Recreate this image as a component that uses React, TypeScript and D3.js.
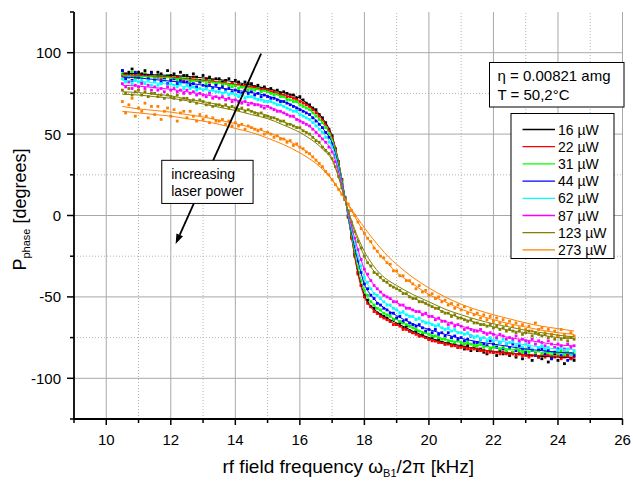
import React from "react";
import * as d3 from "d3";

const width = 633;
const height = 481;
const margin = { top: 12, right: 10.5, bottom: 62, left: 74 };
const font = "'Liberation Sans', Arial, Helvetica, sans-serif";

// laser powers and colours, one per series
const powers = ["16 µW", "22 µW", "31 µW", "44 µW", "62 µW", "87 µW", "123 µW", "273 µW"];
const colors = ["#000000", "#ff0000", "#00ff00", "#0000ff", "#00ffff", "#ff00ff", "#808000", "#ff8000"];

// measured points: sampled every 0.1 kHz from 10.5 kHz
const dotStart = 10.5;
const dotStep = 0.1;

const dots16 = [
  89, 86, 88, 90, 85, 88, 87, 89, 86, 88,
  85, 88, 87, 84, 89, 86, 87, 85, 88, 86,
  86, 84, 87, 85, 83, 86, 84, 85, 83, 84,
  84, 82, 83, 84, 81, 83, 82, 80, 82, 81,
  81, 79, 80, 78, 79, 77, 78, 76, 77, 75,
  76, 75, 74, 74, 72, 73, 71, 69, 68, 66,
  65, 62, 60, 57, 53, 49, 41, 33, 22, 11,
  -1, -13, -24, -35, -43, -49, -52, -56, -57, -60,
  -61, -62, -63, -65, -64, -67, -66, -69, -68, -71,
  -72, -71, -74, -73, -75, -76, -75, -77, -76, -78,
  -79, -78, -80, -79, -81, -80, -82, -80, -83, -81,
  -83, -82, -84, -85, -82, -84, -86, -83, -85, -84,
  -86, -84, -87, -85, -88, -85, -86, -89, -85, -87,
  -88, -86, -90, -87, -85, -89, -87, -91, -86, -88,
  -89,
];
const dots22 = [
  86, 87, 85, 86, 87, 85, 86, 87, 85, 86,
  85, 86, 84, 85, 86, 85, 84, 85, 84, 83,
  84, 83, 85, 83, 82, 83, 84, 82, 83, 81,
  82, 81, 82, 80, 81, 80, 81, 79, 80, 79,
  79, 79, 78, 77, 78, 77, 76, 76, 75, 74,
  74, 73, 73, 72, 71, 70, 69, 68, 67, 65,
  63, 61, 59, 56, 52, 48, 41, 33, 22, 11,
  -1, -14, -25, -36, -43, -50, -54, -56, -59, -60,
  -62, -63, -64, -65, -67, -67, -68, -70, -70, -71,
  -72, -73, -74, -74, -75, -76, -77, -77, -78, -78,
  -79, -79, -80, -80, -81, -81, -81, -82, -82, -82,
  -82, -83, -83, -84, -84, -84, -84, -85, -84, -85,
  -85, -85, -86, -85, -86, -86, -87, -86, -85, -87,
  -86, -87, -86, -88, -87, -86, -88, -87, -86, -88,
  -87,
];
const dots31 = [
  87, 85, 86, 88, 84, 86, 85, 87, 84, 86,
  84, 86, 85, 83, 86, 84, 85, 83, 85, 84,
  84, 82, 83, 84, 82, 83, 81, 83, 82, 81,
  82, 80, 81, 80, 79, 80, 78, 79, 79, 77,
  78, 77, 78, 76, 77, 76, 75, 74, 75, 73,
  73, 71, 71, 70, 70, 68, 67, 66, 65, 63,
  61, 59, 57, 54, 50, 47, 40, 32, 21, 11,
  0, -12, -22, -32, -40, -46, -49, -53, -55, -57,
  -58, -60, -61, -62, -64, -63, -65, -66, -67, -68,
  -69, -70, -71, -72, -72, -73, -74, -74, -75, -76,
  -76, -77, -77, -78, -77, -78, -79, -78, -79, -80,
  -80, -79, -81, -80, -82, -81, -80, -82, -81, -83,
  -82, -84, -82, -83, -84, -82, -84, -83, -85, -83,
  -85, -83, -84, -86, -84, -85, -83, -86, -84, -85,
  -85,
];
const dots44 = [
  89, 84, 86, 83, 88, 85, 82, 86, 84, 87,
  83, 85, 82, 84, 81, 83, 84, 81, 83, 82,
  82, 80, 81, 79, 82, 80, 79, 80, 78, 80,
  78, 79, 77, 78, 76, 77, 76, 75, 77, 75,
  76, 74, 75, 73, 74, 73, 72, 72, 71, 70,
  70, 69, 68, 67, 66, 65, 64, 63, 62, 60,
  58, 56, 54, 51, 48, 44, 37, 30, 20, 10,
  0, -10, -19, -28, -35, -42, -45, -49, -51, -54,
  -55, -57, -58, -60, -60, -63, -62, -65, -64, -66,
  -67, -68, -67, -69, -71, -70, -72, -70, -73, -72,
  -74, -72, -75, -74, -76, -75, -77, -76, -74, -78,
  -78, -76, -79, -80, -77, -79, -81, -78, -82, -79,
  -81, -79, -83, -80, -82, -84, -81, -83, -86, -82,
  -82, -85, -83, -88, -84, -82, -86, -84, -89, -85,
  -86,
];
const dots62 = [
  84, 82, 85, 81, 83, 82, 84, 81, 83, 80,
  82, 80, 81, 83, 79, 81, 80, 79, 81, 78,
  80, 78, 79, 77, 78, 77, 78, 76, 77, 76,
  76, 75, 76, 74, 75, 74, 73, 74, 72, 73,
  73, 72, 71, 71, 70, 70, 70, 69, 68, 68,
  67, 66, 65, 64, 64, 62, 61, 60, 59, 57,
  55, 53, 51, 48, 45, 42, 36, 29, 20, 10,
  1, -8, -17, -25, -31, -38, -41, -45, -48, -49,
  -51, -53, -55, -55, -57, -58, -60, -59, -61, -62,
  -62, -64, -63, -65, -66, -66, -67, -68, -67, -69,
  -70, -69, -71, -70, -72, -72, -73, -72, -74, -75,
  -74, -76, -75, -77, -75, -77, -76, -78, -76, -79,
  -78, -77, -80, -78, -81, -79, -80, -82, -79, -81,
  -80, -82, -81, -84, -81, -83, -81, -84, -82, -85,
  -83,
];
const dots87 = [
  81, 79, 82, 78, 80, 79, 81, 78, 80, 77,
  79, 77, 78, 76, 79, 77, 78, 76, 77, 75,
  77, 75, 76, 74, 75, 74, 73, 75, 72, 73,
  72, 73, 71, 72, 70, 71, 70, 69, 70, 68,
  69, 68, 68, 67, 66, 67, 66, 65, 64, 64,
  63, 62, 61, 61, 59, 58, 57, 56, 55, 53,
  51, 49, 47, 45, 42, 39, 33, 27, 19, 10,
  2, -6, -14, -21, -27, -33, -36, -40, -43, -45,
  -47, -49, -50, -51, -53, -53, -55, -55, -57, -57,
  -58, -59, -59, -61, -60, -62, -62, -64, -63, -65,
  -65, -67, -66, -68, -67, -68, -70, -69, -70, -71,
  -71, -70, -72, -73, -72, -73, -75, -73, -74, -76,
  -75, -76, -74, -77, -76, -77, -78, -76, -79, -77,
  -78, -80, -77, -79, -81, -79, -80, -82, -79, -81,
  -80,
];
const dots123 = [
  77, 75, 78, 74, 76, 77, 74, 76, 73, 75,
  75, 73, 74, 72, 74, 73, 72, 74, 71, 72,
  72, 70, 71, 69, 71, 70, 68, 69, 67, 68,
  68, 67, 68, 66, 67, 66, 65, 66, 64, 65,
  64, 63, 62, 63, 61, 61, 60, 60, 59, 58,
  58, 56, 56, 55, 54, 54, 52, 51, 50, 48,
  46, 45, 42, 40, 38, 35, 30, 24, 17, 10,
  3, -4, -10, -16, -20, -25, -29, -31, -35, -36,
  -38, -40, -41, -43, -44, -45, -46, -48, -48, -50,
  -51, -51, -53, -53, -54, -55, -56, -57, -57, -59,
  -60, -60, -62, -61, -63, -63, -64, -65, -64, -66,
  -66, -67, -67, -68, -67, -69, -68, -70, -69, -71,
  -70, -71, -72, -71, -73, -72, -71, -74, -72, -73,
  -74, -73, -75, -74, -76, -74, -76, -75, -77, -75,
  -76,
];
const dots273 = [
  70, 63, 68, 72, 61, 66, 64, 69, 60, 67,
  62, 67, 59, 64, 66, 61, 65, 58, 63, 64,
  60, 64, 61, 58, 62, 59, 61, 57, 60, 58,
  58, 59, 56, 58, 55, 57, 55, 56, 53, 55,
  54, 53, 52, 53, 50, 51, 50, 48, 49, 47,
  47, 45, 46, 43, 44, 42, 41, 39, 38, 36,
  34, 32, 30, 27, 25, 22, 19, 16, 13, 10,
  7, 3, 0, -4, -8, -11, -14, -16, -20, -22,
  -25, -26, -29, -30, -34, -34, -37, -37, -40, -40,
  -42, -45, -43, -47, -46, -49, -48, -51, -50, -53,
  -52, -55, -54, -57, -55, -58, -56, -60, -58, -61,
  -60, -63, -61, -64, -62, -65, -63, -66, -64, -67,
  -65, -68, -66, -69, -67, -70, -68, -71, -66, -70,
  -69, -72, -70, -73, -71, -74, -70, -73, -75, -72,
  -74,
];

// fitted curves
const fitX = [
  10.5, 11, 11.5, 12, 12.5, 13, 13.5, 14, 14.5, 15,
  15.5, 16, 16.25, 16.5, 16.75, 17, 17.2, 17.4, 17.6, 17.8,
  18, 18.25, 18.5, 18.75, 19, 19.5, 20, 20.5, 21, 21.5,
  22, 22.5, 23, 23.5, 24, 24.5,
];
const fit16 = [87.5, 87, 86.5, 86, 85.5, 84.5, 83.5, 82, 80, 78, 75.5, 72, 68.5, 64.5, 58.5, 49, 33, 11, -13, -35, -49, -56.5, -60.5, -63.5, -66, -71, -75, -78, -80, -82, -83.5, -84.5, -85.5, -86.5, -87, -87.5];
const fit22 = [86.5, 86, 85.5, 85, 84, 83, 82, 80.5, 79, 77, 74, 70.5, 67.5, 63.5, 57.5, 48.5, 33, 11, -13.5, -36, -50, -57.5, -61.5, -64.5, -67, -72, -76, -78.5, -80.5, -82, -83.5, -84.5, -85.5, -86, -86.5, -87];
const fit31 = [86, 85.5, 85, 84.5, 83.5, 82.5, 81.5, 80, 78, 76, 72.5, 68.5, 65.5, 61.5, 55.5, 47, 32, 11, -12, -32, -46, -54, -58.5, -61.5, -64, -69, -73, -76, -78, -79.5, -81, -82, -83, -84, -84.5, -85];
const fit44 = [85, 84.5, 83.5, 82.5, 81.5, 80, 78.5, 77, 75.5, 73.5, 70, 65.5, 62.5, 58.5, 52.5, 44.5, 30, 10.5, -10, -28, -42, -50, -55, -58.5, -61.5, -66.5, -70, -73, -75.5, -77.5, -79, -80.5, -82, -83, -84, -84.5];
const fit62 = [83, 82.5, 81.5, 80.5, 79, 77.5, 76, 74.5, 72.5, 70.5, 67, 62.5, 59.5, 55.5, 50, 42.5, 29, 10, -8.5, -25, -38, -46.5, -51.5, -55, -58, -62.5, -66, -69.5, -72, -74.5, -76.5, -78, -79.5, -81, -82, -82.5];
const fit87 = [80, 79.5, 78.5, 77.5, 76, 74.5, 72.5, 71, 69, 67, 63, 58.5, 55.5, 51.5, 46, 39.5, 27, 10, -6.5, -21, -33, -41.5, -47, -50.5, -53.5, -58, -61.5, -65, -68, -70.5, -73, -75, -76.5, -78, -79.5, -80];
const fit123 = [76, 75.5, 74.5, 73.5, 71.5, 70, 68, 66, 64, 61.5, 57.5, 53.5, 50.5, 46.5, 41.5, 35, 24, 9.5, -4, -15.5, -25, -33, -38.5, -42, -45, -50.5, -55, -59.5, -63, -66, -68.5, -70.5, -72, -73.5, -75, -75.5];
const fit273 = [67, 65.5, 64.5, 63.5, 62, 60.5, 58.5, 56.5, 54, 51, 47, 42, 38.5, 34, 28.5, 22, 16, 10, 3, -4, -11, -18, -24.5, -30, -35, -42, -48.5, -53, -57.5, -61, -64, -66.5, -68.5, -70.5, -72, -73];
// second fit drawn for the two highest powers
const fit123b = [74.5, 74, 73, 72, 70.5, 68.5, 66.5, 64.5, 62, 59.5, 55.5, 51, 48, 44.5, 40, 34, 23.5, 9.5, -3, -13.5, -22, -30, -36, -40, -43, -48.5, -53, -57.5, -61, -64, -66.5, -68.5, -70.5, -72, -73.5, -74.5];
const fit273b = [64, 63, 62, 61, 59.5, 58, 56, 53.5, 51, 47.5, 43.5, 38.5, 35.5, 32, 27.5, 22, 16.5, 10, 4, -2, -7.5, -14, -20, -25.5, -30, -38, -44.5, -50, -54.5, -58, -61, -63.5, -66, -68, -69.5, -71];

const allDots = [dots16, dots22, dots31, dots44, dots62, dots87, dots123, dots273];
const allFits = [fit16, fit22, fit31, fit44, fit62, fit87, fit123, fit273];
const extraFits = [
  { values: fit123b, color: colors[6] },
  { values: fit273b, color: colors[7] },
];

// axis ticks
const xMajor = [10, 12, 14, 16, 18, 20, 22, 24, 26];
const xMinor = [9, 11, 13, 15, 17, 19, 21, 23, 25];
const yMajor = [-100, -50, 0, 50, 100];
const yMinor = [-125, -75, -25, 25, 75, 125];

// annotation arrow and its label box, in data units
const arrowFrom = { f: 14.8, p: 99.5 };
const arrowTo = { f: 12.15, p: -17.5 };
const noteBox = { f0: 11.72, f1: 14.55, p0: 33.9, p1: 7.4 };

export default function App() {
  const x = d3
    .scaleLinear()
    .domain([9, 26])
    .range([margin.left, width - margin.right]);
  const y = d3
    .scaleLinear()
    .domain([-125, 125])
    .range([height - margin.bottom, margin.top]);

  const fitLine = d3
    .line<number>()
    .x((_, i) => x(fitX[i]))
    .y(d => y(d))
    .curve(d3.curveMonotoneX);

  const x0 = margin.left;
  const x1 = width - margin.right;
  const y0 = height - margin.bottom;
  const y1 = margin.top;

  // arrow head
  const ax0 = x(arrowFrom.f), ay0 = y(arrowFrom.p);
  const ax1 = x(arrowTo.f), ay1 = y(arrowTo.p);
  const ang = Math.atan2(ay1 - ay0, ax1 - ax0);
  const headLen = 10, headW = 3.6;
  const bx = ax1 - headLen * Math.cos(ang), by = ay1 - headLen * Math.sin(ang);
  const head = [
    [ax1, ay1],
    [bx + headW * Math.sin(ang), by - headW * Math.cos(ang)],
    [bx - headW * Math.sin(ang), by + headW * Math.cos(ang)],
  ];

  const infoX = 489.5, infoY = 62.5;
  const legX = 511, legY = 113.5, legRow = 17.2;

  return (
    <svg
      width={width}
      height={height}
      style={{ position: "absolute", left: 0, top: 0, background: "#fff" }}
      fontFamily={font}
    >
      <rect width={width} height={height} fill="#fff" />

      {/* grid */}
      {xMajor.map(v => (
        <line key={"gx" + v} x1={x(v)} x2={x(v)} y1={y0} y2={y1} stroke="#a8a8a8" strokeWidth={1} />
      ))}
      {xMinor.slice(1).map(v => (
        <line key={"gxm" + v} x1={x(v)} x2={x(v)} y1={y0} y2={y1} stroke="#b4b4b4" strokeWidth={1} strokeDasharray="1,2" />
      ))}
      {yMajor.map(v => (
        <line key={"gy" + v} x1={x0} x2={x1} y1={y(v)} y2={y(v)} stroke="#a8a8a8" strokeWidth={1} />
      ))}
      {yMinor.slice(1, -1).map(v => (
        <line key={"gym" + v} x1={x0} x2={x1} y1={y(v)} y2={y(v)} stroke="#b4b4b4" strokeWidth={1} strokeDasharray="1,2" />
      ))}

      {/* measured points */}
      {allDots.map((vals, s) => (
        <g key={"d" + s} fill={colors[s]}>
          {vals.map((v, i) => (
            <rect
              key={i}
              x={x(dotStart + i * dotStep) - 1.4}
              y={y(v) - 1.4}
              width={2.8}
              height={2.8}
            />
          ))}
        </g>
      ))}

      {/* fits */}
      {allFits.map((vals, s) => (
        <path key={"f" + s} d={fitLine(vals) || ""} fill="none" stroke={colors[s]} strokeWidth={1} />
      ))}
      {extraFits.map((f, s) => (
        <path key={"fe" + s} d={fitLine(f.values) || ""} fill="none" stroke={f.color} strokeWidth={1} />
      ))}

      {/* axes */}
      <line x1={x0} x2={x0} y1={y1} y2={y0 + 1} stroke="#000" strokeWidth={1.8} />
      <line x1={x0 - 1} x2={x1} y1={y0} y2={y0} stroke="#000" strokeWidth={1.8} />
      {xMajor.map(v => (
        <g key={"tx" + v}>
          <line x1={x(v)} x2={x(v)} y1={y0} y2={y0 + 6} stroke="#000" strokeWidth={1.5} />
          <text x={x(v)} y={y0 + 26} textAnchor="middle" fontSize={15}>
            {v}
          </text>
        </g>
      ))}
      {xMinor.map(v => (
        <line key={"txm" + v} x1={x(v)} x2={x(v)} y1={y0} y2={y0 + 4} stroke="#000" strokeWidth={1.5} />
      ))}
      {yMajor.map(v => (
        <g key={"ty" + v}>
          <line x1={x0 - 7} x2={x0} y1={y(v)} y2={y(v)} stroke="#000" strokeWidth={1.5} />
          <text x={x0 - 13} y={y(v) + 5.5} textAnchor="end" fontSize={15}>
            {v}
          </text>
        </g>
      ))}
      {yMinor.map(v => (
        <line key={"tym" + v} x1={x0 - 4} x2={x0} y1={y(v)} y2={y(v)} stroke="#000" strokeWidth={1.5} />
      ))}

      {/* axis titles */}
      <text x={(x0 + x1) / 2} y={473} textAnchor="middle" fontSize={19}>
        rf field frequency ω
        <tspan fontSize={11} dy={4}>B1</tspan>
        <tspan dy={-4}>/2π [kHz]</tspan>
      </text>
      <text transform={`translate(25.5, ${(y0 + y1) / 2 - 6}) rotate(-90)`} textAnchor="middle" fontSize={18}>
        P<tspan fontSize={11} dy={4}>phase</tspan>
        <tspan dy={-4}> [degrees]</tspan>
      </text>

      {/* annotation */}
      <line x1={ax0} y1={ay0} x2={bx} y2={by} stroke="#000" strokeWidth={1.8} />
      <polygon points={head.map(p => p.join(",")).join(" ")} fill="#000" />
      <rect
        x={x(noteBox.f0)}
        y={y(noteBox.p0)}
        width={x(noteBox.f1) - x(noteBox.f0)}
        height={y(noteBox.p1) - y(noteBox.p0)}
        fill="#fff"
        stroke="#000"
        strokeWidth={1}
      />
      <text x={x(noteBox.f0) + 9.5} y={y(noteBox.p0) + 19} fontSize={14}>
        increasing
      </text>
      <text x={x(noteBox.f0) + 9.5} y={y(noteBox.p0) + 36} fontSize={14}>
        laser power
      </text>

      {/* sample info */}
      <rect x={infoX} y={infoY} width={134.5} height={44.5} fill="#fff" stroke="#000" strokeWidth={1} />
      <text x={infoX + 8} y={infoY + 18.5} fontSize={15}>
        η = 0.00821 amg
      </text>
      <text x={infoX + 8} y={infoY + 37} fontSize={15}>
        T = 50,2°C
      </text>

      {/* legend */}
      <rect x={legX} y={legY} width={103} height={145} fill="#fff" stroke="#000" strokeWidth={1} />
      {powers.map((p, i) => (
        <g key={"l" + i}>
          <line
            x1={legX + 11.5}
            x2={legX + 44}
            y1={legY + 16 + i * legRow}
            y2={legY + 16 + i * legRow}
            stroke={colors[i]}
            strokeWidth={1.3}
          />
          <text x={legX + 47} y={legY + 21 + i * legRow} fontSize={14}>
            {p}
          </text>
        </g>
      ))}
    </svg>
  );
}
